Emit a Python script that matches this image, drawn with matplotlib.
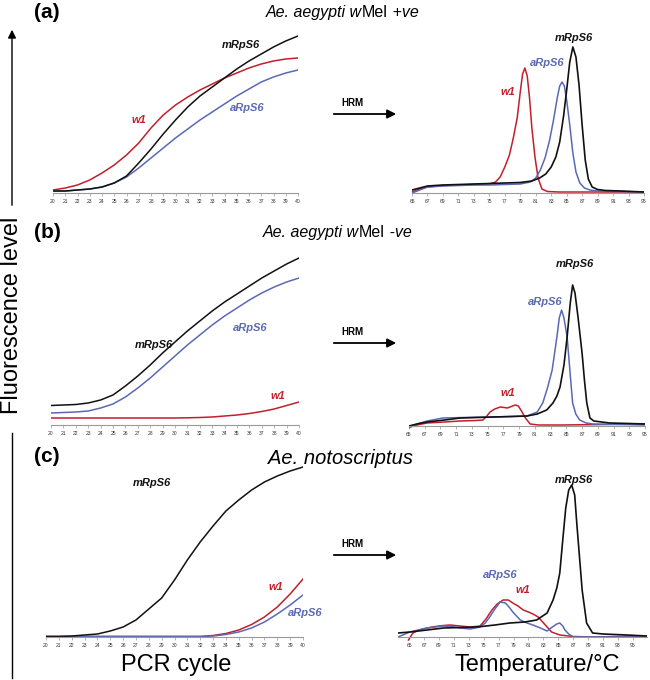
import matplotlib
matplotlib.use("Agg")
import matplotlib.pyplot as plt

plt.rcParams["font.family"] = ["Liberation Sans", "DejaVu Sans"]

W, H = 650, 680
RED = "#c21f2b"
BLUE = "#5a69b3"
BLACK = "#111111"

# ---- amplification curves (fluorescence above baseline, arbitrary units) ----
cycles = list(range(20, 41))

amp_a_mrps6 = [2, 2, 3, 4, 6, 10, 17, 30, 44, 59, 73, 86, 97, 106, 115, 124, 132, 139, 146, 152, 157]
amp_a_w1 = [3, 5, 8, 13, 20, 28, 38, 50, 65, 78, 88, 96, 103, 109, 115, 120, 125, 129, 132, 134, 135]
amp_a_arps6 = [2, 2, 3, 4, 6, 10, 16, 25, 35, 45, 55, 64, 73, 81, 89, 97, 104, 111, 116, 120, 123]

amp_b_mrps6 = [19.5, 20, 20.5, 22, 25, 30, 39, 49, 60, 72, 83, 94, 104, 114, 123, 131, 139, 147, 154, 161, 167]
amp_b_arps6 = [12, 12.5, 13, 14, 17, 21, 28, 37, 47, 58, 69, 80, 90, 100, 109, 117, 125, 132, 138, 143, 147]
amp_b_w1 = [7, 7, 7, 7, 7, 7, 7, 7, 7, 7, 7, 7.2, 7.5, 8, 9, 10, 11.5, 13.5, 16, 19.5, 23]

amp_c_mrps6 = [0.5, 0.5, 1, 2, 3, 6, 10, 17, 28, 39, 57, 77, 95, 111, 126, 137, 147, 155, 161, 166, 170]
amp_c_w1 = [0.5] * 12 + [0.5, 1.5, 3.5, 7, 12.5, 20, 30, 43, 58]
amp_c_arps6 = [0.5] * 13 + [1, 2.5, 5, 9, 15, 23, 32, 42]

# ---- melt curves (-dF/dT, arbitrary units) ----
temp_a_mrps6 = [65, 66, 67, 69, 71, 73, 75, 77, 79, 80.5, 81.5, 82.3, 83.0, 83.6, 84.1, 84.6, 85.0, 85.4,
                85.8, 86.2, 86.6, 87.0, 87.4, 87.8, 88.3, 89, 90, 92, 95]
melt_a_mrps6 = [3, 5, 7, 8, 8.5, 9, 9.5, 10, 10.5, 12, 15, 19, 26, 36, 51, 77, 103, 131,
                146, 136, 108, 68, 33, 14, 6, 3.5, 2.5, 2, 1]
temp_a_arps6 = [65, 66, 67, 69, 71, 73, 75, 77, 79, 80.3, 81.0, 81.6, 82.2, 82.8, 83.3, 83.8, 84.1, 84.4,
                84.7, 85.0, 85.4, 85.8, 86.2, 86.7, 87.3, 88, 89, 92, 95]
melt_a_arps6 = [0, 3, 6, 7, 7.5, 8, 8, 8.5, 9, 11, 15, 23, 35, 53, 73, 96, 107, 111,
                107, 93, 68, 40, 21, 10, 5, 3, 2, 1.5, 1]
temp_a_w1 = [65, 66, 67, 69, 71, 73, 75, 75.8, 76.4, 77.0, 77.6, 78.1, 78.6, 79.0, 79.3, 79.6, 79.9,
             80.2, 80.5, 80.9, 81.3, 81.8, 82.5, 84, 88, 95]
melt_a_w1 = [1, 4, 6, 7.5, 8, 8.5, 9, 11, 16, 26, 38, 55, 75, 101, 119, 125, 117,
             95, 65, 36, 15, 4, 1.5, 1, 1, 1]

temp_b_mrps6 = [65, 66, 67.3, 69.5, 71.5, 73.5, 75.7, 78, 80, 81.3, 82.5, 83.3, 83.8, 84.2, 84.7, 85.1,
                85.5, 85.8, 86.1, 86.5, 87.0, 87.3, 87.6, 88.0, 88.5, 90.5, 93, 95]
melt_b_mrps6 = [0, 2, 4, 6, 8, 8.5, 9, 9.5, 10, 12, 16, 23, 30, 39, 61, 89,
                123, 141, 133, 108, 73, 46, 23, 8, 5, 3, 2.5, 2]
temp_b_arps6 = [65, 66, 67.3, 69.3, 72, 75.7, 78, 80, 81.3, 82.0, 82.6, 83.2, 83.8, 84.1, 84.4, 84.7,
                85.1, 85.5, 85.8, 86.2, 86.7, 87.5, 88.4, 92, 95]
melt_b_arps6 = [-2, 2, 5, 8, 8.5, 9, 9.5, 10, 14, 23, 38, 56, 89, 108, 116, 108,
                89, 51, 23, 12, 6, 3, 2, 1.5, 1]
temp_b_w1 = [65, 66, 67.3, 69.5, 71.5, 73.5, 74.4, 74.9, 75.3, 75.9, 76.6, 77.1, 77.5, 78.0, 78.5,
             78.9, 79.3, 79.8, 80.4, 81.5, 84.2, 90, 95]
melt_b_w1 = [-1, 1, 3, 4, 5, 5.5, 6, 10, 14, 17, 19, 18.5, 18, 19.5, 21,
             20, 15, 8, 2, 1, 1, 1.5, 2]

temp_c_mrps6 = [63.5, 65.1, 67.4, 69.6, 72, 74.1, 76.5, 78.5, 80.5, 82.1, 83.5, 84.3, 84.8, 85.2, 85.6,
                86.0, 86.4, 86.8, 87.2, 87.5, 87.9, 88.2, 88.8, 89.6, 91, 94.2, 96.9]
melt_c_mrps6 = [4, 5, 7, 9, 9.5, 10, 12, 14, 15, 17, 24, 37, 49, 64, 97,
                129, 147, 152, 142, 112, 75, 47, 14, 4, 3, 2, 1]
temp_c_arps6 = [63.5, 64.3, 65.1, 66.2, 67.4, 68.5, 69.6, 70.7, 71.8, 73.2, 74.5, 75.2, 75.8, 76.5,
                77.2, 77.9, 78.4, 78.9, 79.9, 80.8, 81.6, 82.6, 83.5, 84.2, 84.8, 85.2, 85.6, 85.9,
                86.4, 87.0, 90, 96.9]
melt_c_arps6 = [0, 2.5, 5, 7, 9, 10, 11, 10.5, 9, 8, 10, 14, 20, 28,
                35, 34, 30, 25, 17, 14, 12, 9, 6, 10, 13, 14, 11, 7,
                3, 0, 0, 0]
temp_c_w1 = [64.9, 65.5, 66.3, 67.4, 68.5, 69.6, 70.5, 71.8, 73.2, 74.5, 75.3, 76.1, 76.8, 77.6, 78.3,
             78.9, 79.6, 80.3, 81.0, 81.6, 82.3, 82.9, 83.5, 84.1, 85.2, 87, 89.6, 93, 96.9]
melt_c_w1 = [-3, 4, 7, 9, 10.5, 11.5, 12, 11, 10, 11, 18, 27, 33, 37, 37,
             34, 31, 27, 25, 23, 20, 15, 10, 5, 2, 0.5, 0, 0.5, 1]

amp_ticks = list(range(20, 41))
melt_ticks = list(range(65, 96, 2))


def px_axes(fig, x0, x1, base, top, ylo=-5):
    # axes whose y unit is one pixel, with y=0 sitting on pixel row `base`
    rect = [x0 / W, (H - (base - ylo)) / H, (x1 - x0) / W, ((base - ylo) - top) / H]
    ax = fig.add_axes(rect)
    ax.set_ylim(ylo, base - top)
    ax.patch.set_alpha(0)
    for s in ("top", "right", "left"):
        ax.spines[s].set_visible(False)
    ax.spines["bottom"].set_position(("data", 0))
    ax.spines["bottom"].set_color("#9a9a9a")
    ax.spines["bottom"].set_linewidth(0.8)
    ax.set_yticks([])
    ax.tick_params(axis="x", length=2, width=0.5, color="#9a9a9a", pad=2,
                   labelsize=3.6, labelcolor="#333333")
    return ax


fig = plt.figure(figsize=(W / 100, H / 100), dpi=100)

# overlay in pixel coordinates for arrows and labels
ov = fig.add_axes([0, 0, 1, 1])
ov.set_xlim(0, W)
ov.set_ylim(H, 0)
ov.axis("off")

amp_panels = [
    (53, 298, 193, 33, amp_a_mrps6, amp_a_arps6, amp_a_w1),
    (51, 299, 425, 255, amp_b_mrps6, amp_b_arps6, amp_b_w1),
    (46, 303, 637, 460, amp_c_mrps6, amp_c_arps6, amp_c_w1),
]
for x0, x1, base, top, m, a, w in amp_panels:
    ax = px_axes(fig, x0, x1, base, top)
    ax.plot(cycles, w, color=RED, lw=1.1)
    ax.plot(cycles, a, color=BLUE, lw=1.1)
    ax.plot(cycles, m, color=BLACK, lw=1.1)
    ax.set_xlim(20, 40)
    ax.set_xticks(amp_ticks)

melt_panels = [
    (412, 644, 193, 33, (65, 95),
     (temp_a_mrps6, melt_a_mrps6), (temp_a_arps6, melt_a_arps6), (temp_a_w1, melt_a_w1)),
    (409, 645, 426, 266, (65, 95),
     (temp_b_mrps6, melt_b_mrps6), (temp_b_arps6, melt_b_arps6), (temp_b_w1, melt_b_w1)),
    (398, 647, 637, 477, (63.5, 96.9),
     (temp_c_mrps6, melt_c_mrps6), (temp_c_arps6, melt_c_arps6), (temp_c_w1, melt_c_w1)),
]
for x0, x1, base, top, xl, m, a, w in melt_panels:
    ax = px_axes(fig, x0, x1, base, top)
    ax.plot(*w, color=RED, lw=1.1)
    ax.plot(*a, color=BLUE, lw=1.1)
    ax.plot(*m, color=BLACK, lw=1.2)
    ax.set_xlim(*xl)
    ax.set_xticks(melt_ticks)

# curve labels
lab = dict(fontsize=8, fontweight="bold", fontstyle="italic", ha="center", va="center")
curve_labels = [
    ("mRpS6", 241, 45, BLACK), ("w1", 139, 120, RED), ("aRpS6", 247, 108, BLUE),
    ("mRpS6", 574, 38, BLACK), ("aRpS6", 547, 63, BLUE), ("w1", 508, 92, RED),
    ("mRpS6", 154, 345, BLACK), ("aRpS6", 250, 328, BLUE), ("w1", 278, 396, RED),
    ("mRpS6", 575, 264, BLACK), ("aRpS6", 545, 302, BLUE), ("w1", 508, 393, RED),
    ("mRpS6", 152, 483, BLACK), ("w1", 276, 587, RED), ("aRpS6", 305, 613, BLUE),
    ("mRpS6", 574, 480, BLACK), ("aRpS6", 500, 575, BLUE), ("w1", 523, 590, RED),
]
for s, x, y, c in curve_labels:
    ov.text(x, y, s, color=c, **lab)

# panel letters
for s, y in (("(a)", 13), ("(b)", 233), ("(c)", 457)):
    ov.text(47, y, s, fontsize=15, fontweight="bold", ha="center", va="center")

# titles with mixed italic / upright parts, all on one baseline
renderer = fig.canvas.get_renderer()
inv = ov.transData.inverted()


def mixed_text(x, y, parts, size):
    for s, style in parts:
        t = ov.text(x, y, s, fontsize=size, fontstyle=style, ha="left", va="baseline")
        bb = t.get_window_extent(renderer)
        x = inv.transform((bb.x1, bb.y0))[0]


mixed_text(266, 17, [("Ae. aegypti w", "italic"), ("Mel", "normal"), (" +ve", "italic")], 11.5)
mixed_text(263, 237, [("Ae. aegypti w", "italic"), ("Mel", "normal"), (" -ve", "italic")], 11.5)
mixed_text(268, 464, [("Ae. notoscriptus", "italic")], 14.5)

# HRM arrows
for y in (114, 343, 555):
    ov.annotate("", xy=(399, y), xytext=(331, y),
                arrowprops=dict(arrowstyle="-|>", lw=1.3, color="black", mutation_scale=13))
    ov.text(352, y - 11, "HRM", fontsize=7, fontweight="bold", ha="center", va="center")

# vertical fluorescence axis
ov.annotate("", xy=(12, 27), xytext=(12, 208),
            arrowprops=dict(arrowstyle="-|>", lw=1.0, color="black", mutation_scale=12))
ov.plot([12, 12], [433, 678], color="black", lw=1.0)
ov.text(12, 315, "Fluorescence level", fontsize=17, rotation=90, ha="center", va="center")

ov.text(176, 665, "PCR cycle", fontsize=17, ha="center", va="center")
ov.text(537, 665, "Temperature/°C", fontsize=17, ha="center", va="center")

fig.savefig("out.png", dpi=100)
